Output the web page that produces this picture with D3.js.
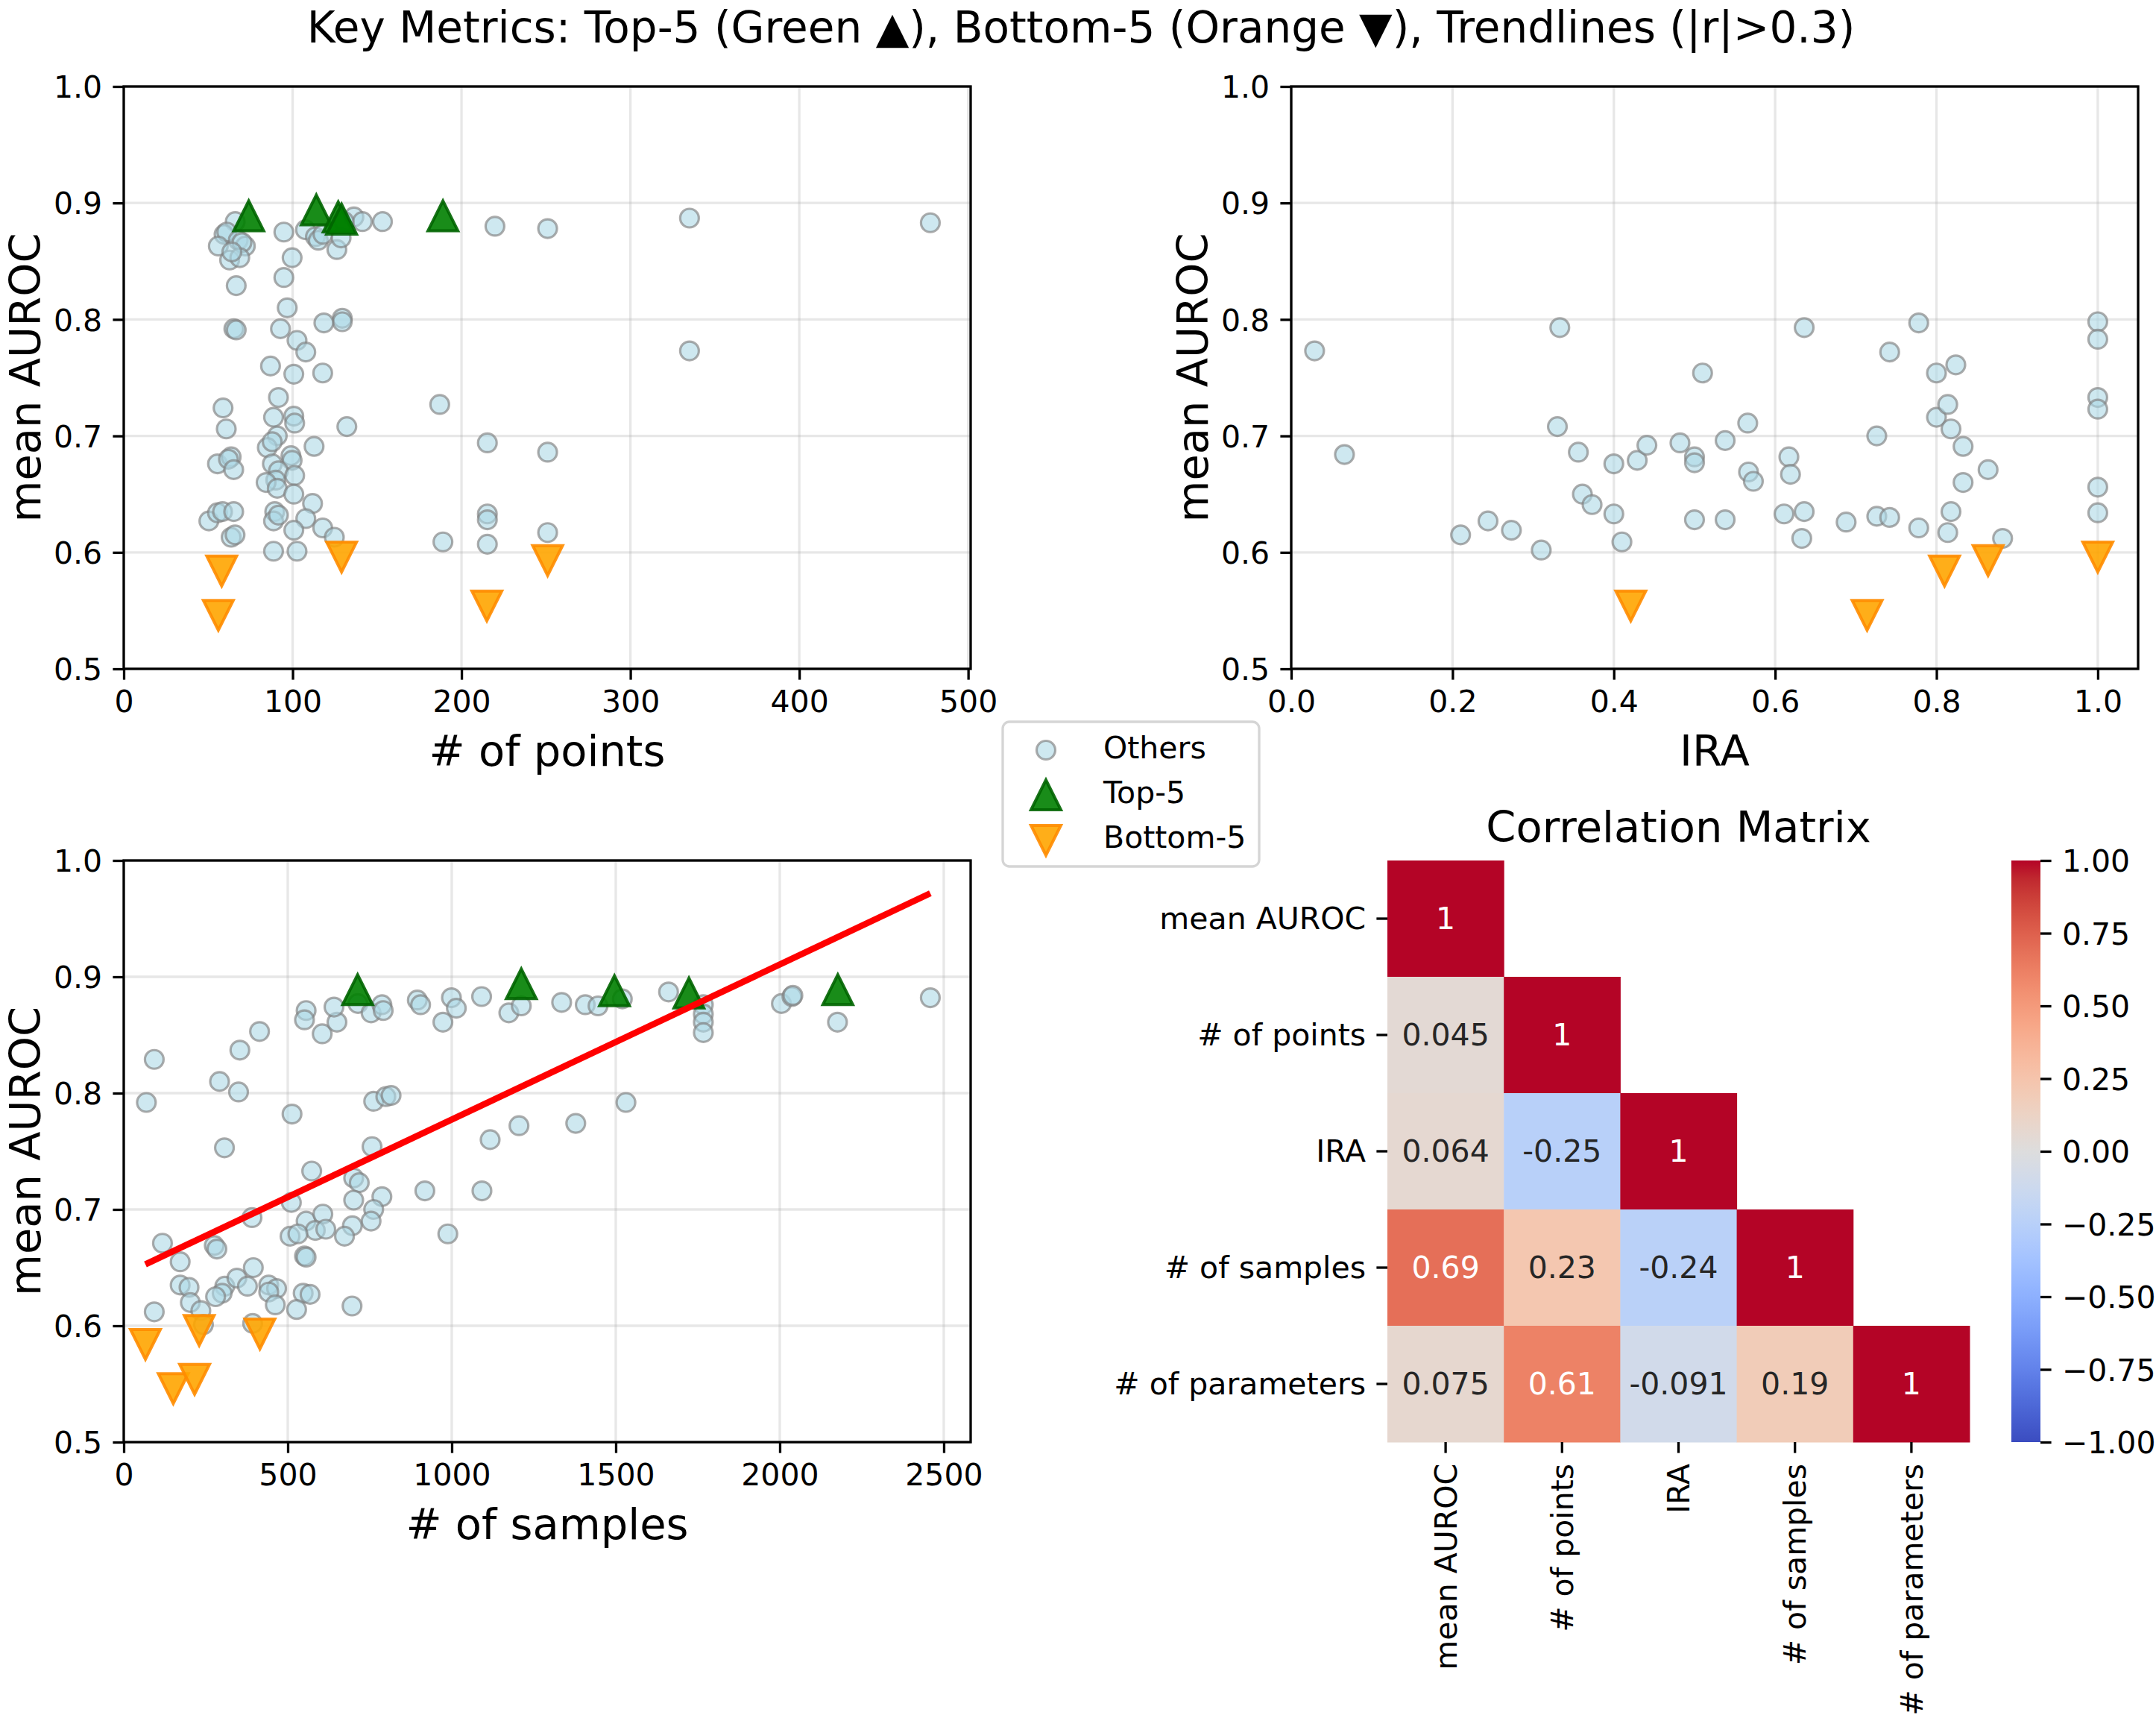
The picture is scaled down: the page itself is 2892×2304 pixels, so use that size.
<!DOCTYPE html>
<html><head><meta charset="utf-8">
<script src="https://cdn.jsdelivr.net/npm/d3@7"></script>
<style>
body{margin:0;background:#fff}
svg{display:block}
text{font-family:"DejaVu Sans",sans-serif}
</style>
</head><body>
<svg id="chart" width="2892" height="2304"></svg>
<script>
// ---------------- DATA ----------------
// "Others" for panel: # of points vs mean AUROC  [x, auroc]
const othersPoints = [
 [66,0.884],[59.4,0.873],[61,0.875],[56,0.863],[67.8,0.868],[72,0.863],[70,0.866],[62.7,0.851],[68.7,0.853],[64,0.858],
 [66.6,0.829],[65.2,0.792],[66.6,0.791],[58.8,0.724],[60.7,0.706],[55.5,0.676],[63.6,0.682],[62,0.680],[65.1,0.671],
 [50.4,0.627],[55.5,0.634],[58.5,0.635],[65.1,0.635],[63.6,0.613],[65.9,0.615],
 [94.8,0.875],[99.7,0.853],[94.8,0.836],[96.8,0.810],[92.8,0.792],[102.6,0.782],[107.8,0.772],[86.9,0.760],[100.7,0.753],
 [117.8,0.754],[91.6,0.733],[88.7,0.716],[100.7,0.717],[101.2,0.711],[132.1,0.708],[90.9,0.700],[85,0.690],[87.9,0.695],
 [112.7,0.691],[99,0.683],[99.7,0.679],[88,0.676],[91.6,0.670],[90,0.662],[101.2,0.666],[84.3,0.660],[90.9,0.655],
 [100.7,0.650],[111.8,0.642],[89.4,0.635],[88.7,0.627],[91.6,0.632],[107.8,0.629],[100.7,0.619],[117.8,0.621],[124.7,0.613],
 [88.7,0.601],[102.6,0.601],
 [107.6,0.877],[113.5,0.871],[115.2,0.868],[118,0.873],[126.2,0.860],[128.7,0.870],[136.3,0.888],[141.3,0.884],[153.2,0.884],[130.5,0.884],
 [129.4,0.801],[129.4,0.798],[118.5,0.797],
 [219.8,0.880],[251,0.878],[335,0.887],[477.6,0.883],[335,0.773],[187.1,0.727],[215.3,0.694],[251,0.686],
 [215.3,0.633],[215.3,0.628],[251,0.617],[189,0.609],[215.3,0.607]
];
// "Others" for panel: IRA vs mean AUROC
const othersIRA = [
 [0.029,0.773],[0.066,0.684],[0.21,0.615],[0.244,0.627],[0.273,0.619],[0.310,0.602],[0.333,0.793],[0.330,0.708],
 [0.356,0.686],[0.361,0.650],[0.373,0.641],[0.400,0.676],[0.400,0.633],[0.410,0.609],[0.429,0.679],[0.441,0.692],
 [0.482,0.694],[0.500,0.682],[0.500,0.677],[0.500,0.628],[0.510,0.754],[0.538,0.696],[0.538,0.628],[0.566,0.711],
 [0.567,0.669],[0.573,0.661],[0.611,0.633],[0.617,0.682],[0.619,0.667],[0.633,0.612],[0.636,0.635],[0.636,0.793],
 [0.688,0.626],[0.726,0.631],[0.726,0.700],[0.742,0.630],[0.742,0.772],[0.778,0.797],[0.778,0.621],[0.800,0.754],
 [0.800,0.716],[0.814,0.727],[0.818,0.706],[0.824,0.761],[0.814,0.617],[0.818,0.635],[0.833,0.691],[0.833,0.660],
 [0.864,0.671],[0.882,0.612],[1.0,0.798],[1.0,0.783],[1.0,0.733],[1.0,0.723],[1.0,0.656],[1.0,0.634]
];
// "Others" for panel: # of samples vs mean AUROC
const othersSamples = [
 [93,0.829],[69,0.792],[292,0.810],[350,0.801],[354,0.837],[414,0.853],[513,0.782],[307,0.753],
 [556,0.871],[551,0.863],[605,0.851],[650,0.861],[641,0.874],[714,0.877],[754,0.869],[787,0.876],[791,0.871],
 [895,0.880],[905,0.876],[973,0.861],[999,0.882],[1014,0.873],[1091,0.883],[1174,0.869],[1212,0.875],
 [1335,0.878],[1407,0.876],[1446,0.875],[1520,0.881],[1661,0.887],[1767,0.876],[1767,0.868],[1767,0.861],[1767,0.852],
 [2005,0.877],[2037,0.883],[2040,0.884],[2176,0.861],[2459,0.882],
 [1531,0.792],[1378,0.774],[1205,0.772],[1117,0.760],
 [762,0.793],[799,0.797],[815,0.798],[757,0.754],[573,0.733],[701,0.727],[718,0.723],[787,0.711],[701,0.708],
 [762,0.700],[754,0.690],[697,0.686],[673,0.677],[918,0.716],[1092,0.716],[988,0.679],
 [118,0.671],[276,0.669],[284,0.666],[511,0.706],[391,0.693],[172,0.655],
 [556,0.690],[607,0.696],[584,0.682],[616,0.683],[507,0.677],[531,0.679],[551,0.660],[556,0.659],
 [172,0.635],[199,0.633],[203,0.620],[235,0.613],[93,0.612],
 [308,0.634],[300,0.628],[280,0.625],[345,0.641],[395,0.650],[377,0.634],
 [442,0.635],[466,0.632],[442,0.629],[462,0.618],[547,0.628],[568,0.627],[527,0.614],[696,0.617],
 [393,0.602],[243,0.601]
];
// Top-5 records (no IRA value)
const top5Auroc   = [0.894, 0.889, 0.889, 0.888, 0.886];
const top5Points  = [114, 189, 74, 127, 129];
const top5Samples = [1212, 2177, 713, 1496, 1723];
// Bottom-5 records
const bottom5Auroc   = [0.546, 0.554, 0.584, 0.596, 0.593];
const bottom5Points  = [56, 215, 58, 129, 251];
const bottom5Samples = [151, 216, 66, 230, 415];
const bottom5IRA     = [0.714, 0.421, 0.810, 1.0, 0.864];
// Trendline (samples vs AUROC)
const trendSlope = 1.333e-4, trendIntercept = 0.6440;
// Correlation matrix (lower triangle)
const corrLabels = ['mean AUROC', '# of points', 'IRA', '# of samples', '# of parameters'];
const corrValues = [
 [1],
 [0.045, 1],
 [0.064, -0.25, 1],
 [0.69, 0.23, -0.24, 1],
 [0.075, 0.61, -0.091, 0.19, 1]
];
// Tick labels
const yTicks = [0.5, 0.6, 0.7, 0.8, 0.9, 1.0];
const xTicksPoints = [0, 100, 200, 300, 400, 500];
const xTicksIRA = [0, 0.2, 0.4, 0.6, 0.8, 1.0];
const xTicksSamples = [0, 500, 1000, 1500, 2000, 2500];
const cbarTicks = [1, 0.75, 0.5, 0.25, 0, -0.25, -0.5, -0.75, -1];
// coolwarm colormap anchors
const coolwarm = [[59,76,192],[68,90,204],[77,104,215],[87,117,225],[98,130,234],[108,142,241],[119,154,247],[130,165,251],
 [141,176,254],[152,185,255],[163,194,255],[174,201,253],[184,208,249],[194,213,244],[204,217,238],[213,219,230],
 [221,221,221],[229,216,209],[236,211,197],[241,204,184],[245,196,172],[247,187,160],[247,177,148],[247,166,135],
 [244,154,123],[241,141,111],[236,127,99],[229,112,88],[222,96,77],[213,80,66],[203,62,56],[192,40,47],[180,4,38]];

// ---------------- DRAW ----------------
const svg = d3.select('#chart');
svg.append('rect').attr('width',2892).attr('height',2304).attr('fill','#fff');
const TICK = 14.6, PAD = 14.3, FS = 41, LFS = 57.5, SW = 3.3;

svg.append('text').attr('x', 1450).attr('y', 57).attr('text-anchor','middle')
  .style('font-size','58px').style('fill','#000')
  .text('Key Metrics: Top-5 (Green \u25B2), Bottom-5 (Orange \u25BC), Trendlines (|r|>0.3)');

const triH = 20;
function triUp(){ return `M0,${-triH}L${-triH},${triH}L${triH},${triH}Z`; }
function triDown(){ return `M0,${triH}L${-triH},${-triH}L${triH},${-triH}Z`; }

function panel(cfg){
  const {x0,x1,y0,y1,others,topX,topY,botX,botY,xTicks,xFmt,xLabel,trend} = cfg;
  const allX = others.map(d=>d[0]).concat(topX||[]).concat(botX);
  const xs = d3.scaleLinear().domain([0, d3.max(allX)*1.05]).range([x0,x1]);
  const ys = d3.scaleLinear().domain([0.5,1.0]).range([y1,y0]);
  const g = svg.append('g');
  // grid
  g.selectAll('.gx').data(xTicks).enter().append('line')
    .attr('x1',d=>xs(d)).attr('x2',d=>xs(d)).attr('y1',y0).attr('y2',y1)
    .attr('stroke','#b0b0b0').attr('stroke-opacity',0.3).attr('stroke-width',SW);
  g.selectAll('.gy').data(yTicks).enter().append('line')
    .attr('y1',d=>ys(d)).attr('y2',d=>ys(d)).attr('x1',x0).attr('x2',x1)
    .attr('stroke','#b0b0b0').attr('stroke-opacity',0.3).attr('stroke-width',SW);
  // others
  g.selectAll('.o').data(others).enter().append('circle')
    .attr('cx',d=>xs(d[0])).attr('cy',d=>ys(d[1])).attr('r',12.5)
    .attr('fill','lightblue').attr('fill-opacity',0.6)
    .attr('stroke','gray').attr('stroke-opacity',0.65).attr('stroke-width',3.2);
  if (topX){
    g.selectAll('.t').data(d3.range(topX.length)).enter().append('path')
      .attr('d',triUp()).attr('transform',i=>`translate(${xs(topX[i])},${ys(topY[i])})`)
      .attr('fill','green').attr('fill-opacity',0.9)
      .attr('stroke','darkgreen').attr('stroke-opacity',0.9).attr('stroke-width',4).attr('stroke-linejoin','miter');
  }
  g.selectAll('.b').data(d3.range(botX.length)).enter().append('path')
    .attr('d',triDown()).attr('transform',i=>`translate(${xs(botX[i])},${ys(botY[i])})`)
    .attr('fill','orange').attr('fill-opacity',0.9)
    .attr('stroke','darkorange').attr('stroke-opacity',0.9).attr('stroke-width',4).attr('stroke-linejoin','miter');
  if (trend){
    const ext = d3.extent(allX);
    g.append('line').attr('x1',xs(ext[0])).attr('x2',xs(ext[1]))
      .attr('y1',ys(trend.intercept+trend.slope*ext[0])).attr('y2',ys(trend.intercept+trend.slope*ext[1]))
      .attr('stroke','red').attr('stroke-width',8.5);
  }
  // axes
  const ax = g.append('g').attr('transform',`translate(0,${y1})`)
    .call(d3.axisBottom(xs).tickValues(xTicks).tickFormat(xFmt).tickSize(TICK).tickSizeOuter(0).tickPadding(PAD));
  const ay = g.append('g').attr('transform',`translate(${x0},0)`)
    .call(d3.axisLeft(ys).tickValues(yTicks).tickFormat(d3.format('.1f')).tickSize(TICK).tickSizeOuter(0).tickPadding(PAD));
  [ax,ay].forEach(a=>{
    a.select('.domain').remove();
    a.selectAll('line').attr('stroke','#000').attr('stroke-width',SW);
    a.selectAll('text').style('font-size',FS+'px').style('fill','#000').style('font-family','"DejaVu Sans",sans-serif');
  });
  ay.selectAll('text').attr('dy','0.36em');
  // spines
  g.append('rect').attr('x',x0).attr('y',y0).attr('width',x1-x0).attr('height',y1-y0)
    .attr('fill','none').attr('stroke','#000').attr('stroke-width',SW);
  // labels
  g.append('text').attr('x',(x0+x1)/2).attr('y',y1+130).attr('text-anchor','middle')
    .style('font-size',LFS+'px').style('fill','#000').text(xLabel);
  g.append('text').attr('transform',`translate(${x0-112},${(y0+y1)/2}) rotate(-90)`).attr('text-anchor','middle')
    .style('font-size',LFS+'px').style('fill','#000').text('mean AUROC');
}

panel({x0:166,x1:1302,y0:116,y1:897, others:othersPoints, topX:top5Points, topY:top5Auroc,
  botX:bottom5Points, botY:bottom5Auroc, xTicks:xTicksPoints, xFmt:d3.format('d'), xLabel:'# of points'});
panel({x0:1732,x1:2868,y0:116,y1:897, others:othersIRA, topX:null, topY:null,
  botX:bottom5IRA, botY:bottom5Auroc, xTicks:xTicksIRA, xFmt:d3.format('.1f'), xLabel:'IRA'});
panel({x0:166,x1:1302,y0:1154,y1:1934, others:othersSamples, topX:top5Samples, topY:top5Auroc,
  botX:bottom5Samples, botY:bottom5Auroc, xTicks:xTicksSamples, xFmt:d3.format('d'), xLabel:'# of samples',
  trend:{slope:trendSlope, intercept:trendIntercept}});

// legend
const lg = svg.append('g');
lg.append('rect').attr('x',1345).attr('y',968).attr('width',344).attr('height',194).attr('rx',9)
  .attr('fill','#fff').attr('fill-opacity',0.8).attr('stroke','#d5d5d5').attr('stroke-width',3.3);
lg.append('circle').attr('cx',1403).attr('cy',1006).attr('r',12.5)
  .attr('fill','lightblue').attr('fill-opacity',0.6).attr('stroke','gray').attr('stroke-opacity',0.65).attr('stroke-width',3.2);
lg.append('path').attr('d',triUp()).attr('transform','translate(1403,1066)')
  .attr('fill','green').attr('fill-opacity',0.9).attr('stroke','darkgreen').attr('stroke-opacity',0.9).attr('stroke-width',4);
lg.append('path').attr('d',triDown()).attr('transform','translate(1403,1127)')
  .attr('fill','orange').attr('fill-opacity',0.9).attr('stroke','darkorange').attr('stroke-opacity',0.9).attr('stroke-width',4);
[['Others',1017],['Top-5',1077],['Bottom-5',1137]].forEach(([t,y])=>{
  lg.append('text').attr('x',1480).attr('y',y).style('font-size',FS+'px').style('fill','#000').text(t);
});

// heatmap
const interp = d3.piecewise(d3.interpolateRgb, coolwarm.map(c=>d3.rgb(c[0],c[1],c[2])));
const cmap = v => interp((v+1)/2);
const hx = d3.scaleBand().domain(corrLabels).range([1861,2642]);
const hy = d3.scaleBand().domain(corrLabels).range([1154,1934]);
const hg = svg.append('g');
const cells = [];
corrValues.forEach((row,i)=>row.forEach((v,j)=>cells.push({i,j,v})));
hg.selectAll('rect').data(cells).enter().append('rect')
  .attr('x',d=>hx(corrLabels[d.j])).attr('y',d=>hy(corrLabels[d.i]))
  .attr('width',hx.bandwidth()+0.5).attr('height',hy.bandwidth()+0.5)
  .attr('fill',d=>cmap(d.v));
function lum(c){
  const r = d3.rgb(c);
  const f = x=>{x/=255; return x<=0.03928? x/12.92 : Math.pow((x+0.055)/1.055,2.4);};
  return 0.2126*f(r.r)+0.7152*f(r.g)+0.0722*f(r.b);
}
hg.selectAll('text.ann').data(cells).enter().append('text')
  .attr('x',d=>hx(corrLabels[d.j])+hx.bandwidth()/2).attr('y',d=>hy(corrLabels[d.i])+hy.bandwidth()/2)
  .attr('dy','0.33em').attr('text-anchor','middle').style('font-size',FS+'px')
  .style('fill',d=>lum(cmap(d.v))>0.408?'#262626':'#ffffff')
  .text(d=>String(d.v));
// heatmap ticks
corrLabels.forEach(l=>{
  const cy = hy(l)+hy.bandwidth()/2, cx = hx(l)+hx.bandwidth()/2;
  hg.append('line').attr('x1',1861-TICK).attr('x2',1861).attr('y1',cy).attr('y2',cy).attr('stroke','#000').attr('stroke-width',SW);
  hg.append('text').attr('x',1861-TICK-PAD).attr('y',cy).attr('dy','0.33em').attr('text-anchor','end')
    .style('font-size',FS+'px').style('fill','#000').text(l);
  hg.append('line').attr('x1',cx).attr('x2',cx).attr('y1',1934).attr('y2',1934+TICK).attr('stroke','#000').attr('stroke-width',SW);
  hg.append('text').attr('transform',`translate(${cx},${1934+TICK+PAD}) rotate(-90)`).attr('dy','0.36em')
    .attr('text-anchor','end').style('font-size',FS+'px').style('fill','#000').text(l);
});
hg.append('text').attr('x',2251.5).attr('y',1129).attr('text-anchor','middle').style('font-size',LFS+'px')
  .style('fill','#000').text('Correlation Matrix');

// colorbar
const defs = svg.append('defs');
const grad = defs.append('linearGradient').attr('id','cw').attr('x1',0).attr('x2',0).attr('y1',1).attr('y2',0);
coolwarm.forEach((c,i)=>grad.append('stop').attr('offset',i/(coolwarm.length-1)).attr('stop-color',d3.rgb(c[0],c[1],c[2])));
const cs = d3.scaleLinear().domain([-1,1]).range([1934,1154]);
svg.append('rect').attr('x',2698).attr('y',1154).attr('width',39).attr('height',780).attr('fill','url(#cw)');
const cax = svg.append('g').attr('transform','translate(2737,0)')
  .call(d3.axisRight(cs).tickValues(cbarTicks).tickFormat(d3.format('.2f')).tickSize(TICK).tickSizeOuter(0).tickPadding(PAD));
cax.select('.domain').remove();
cax.selectAll('line').attr('stroke','#000').attr('stroke-width',SW);
cax.selectAll('text').style('font-size',FS+'px').style('fill','#000').attr('dy','0.36em').style('font-family','"DejaVu Sans",sans-serif');
</script>
</body></html>
